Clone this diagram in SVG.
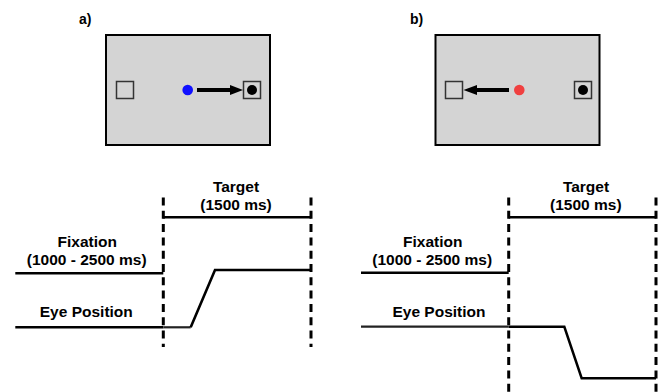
<svg xmlns="http://www.w3.org/2000/svg" width="662" height="392" viewBox="0 0 662 392">
<style>
text{font-family:"Liberation Sans",Arial,sans-serif;font-weight:bold;fill:#000}
.lbl{font-size:15.5px;text-anchor:middle}
.panel{font-size:14px}
.screen{fill:#d4d4d4;stroke:#000;stroke-width:2}
.sq{fill:#d4d4d4;stroke:#333;stroke-width:1.5}
.ln{fill:none;stroke:#000;stroke-width:2.6;stroke-linejoin:miter}
.shaft{fill:none;stroke:#000;stroke-width:4}
.thin{fill:none;stroke:#222;stroke-width:2.2}
.dash{fill:none;stroke:#000;stroke-width:3;stroke-dasharray:8 5.3}
</style>

<g id="panel-a">
<text class="panel" x="79" y="24">a)</text>
<g id="screen-a">
<rect class="screen" x="106" y="35" width="164" height="110"/>
<rect class="sq" x="116.5" y="81.5" width="17" height="17"/>
<rect class="sq" x="243.5" y="81.5" width="17" height="17"/>
<circle cx="252" cy="90" r="5" fill="#000"/>
<circle cx="187.7" cy="90" r="5.3" fill="#1010ff"/>
</g>
</g>

<g id="panel-b">
<text class="panel" x="410" y="24">b)</text>
<g id="screen-b">
<rect class="screen" x="435.5" y="35" width="164" height="110"/>
<rect class="sq" x="445.5" y="81.5" width="17" height="17"/>
<rect class="sq" x="574.5" y="81.5" width="17" height="17"/>
<circle cx="583" cy="90" r="5" fill="#000"/>
<circle cx="519.3" cy="90" r="5.3" fill="#f04040"/>
</g>
</g>

<g id="connectors">
<line class="shaft" x1="197" y1="90" x2="232" y2="90"/>
<polygon points="230,85 243,90 230,95" fill="#000"/>
<line class="shaft" x1="509" y1="90" x2="475" y2="90"/>
<polygon points="477,85 463.5,90 477,95" fill="#000"/>
</g>

<g id="timeline-a">
<line class="dash" x1="163.3" y1="197.5" x2="163.3" y2="347"/>
<line class="dash" x1="311" y1="197.5" x2="311" y2="347"/>
<line class="ln" x1="163.3" y1="217.3" x2="311" y2="217.3"/>
<text class="lbl" x="236" y="191.5">Target</text>
<text class="lbl" x="236" y="210">(1500 ms)</text>
<text class="lbl" x="87.3" y="246.5">Fixation</text>
<text class="lbl" x="86.7" y="265">(1000 - 2500 ms)</text>
<line class="ln" x1="15.3" y1="273.3" x2="163.3" y2="273.3"/>
<text class="lbl" x="86.3" y="317.3">Eye Position</text>
<line class="ln" x1="15.3" y1="327.3" x2="163.3" y2="327.3"/>
<line class="thin" x1="163.3" y1="327.3" x2="190.7" y2="327.3"/>
<polyline class="ln" points="190.7,327.3 215,270 311,270"/>
</g>

<g id="timeline-b">
<line class="dash" x1="508.7" y1="197.5" x2="508.7" y2="392"/>
<line class="dash" x1="656" y1="197.5" x2="656" y2="392"/>
<line class="ln" x1="508.7" y1="217.3" x2="656" y2="217.3"/>
<text class="lbl" x="586" y="191.5">Target</text>
<text class="lbl" x="585.8" y="210">(1500 ms)</text>
<text class="lbl" x="432.7" y="246.5">Fixation</text>
<text class="lbl" x="432.2" y="265">(1000 - 2500 ms)</text>
<line class="ln" x1="361" y1="272.7" x2="508.7" y2="272.7"/>
<text class="lbl" x="439" y="317">Eye Position</text>
<line class="thin" x1="361" y1="326.7" x2="508.7" y2="326.7"/>
<polyline class="ln" points="508.7,326.7 564.3,326.7 581.7,378.3 656,378.3"/>
</g>
</svg>
